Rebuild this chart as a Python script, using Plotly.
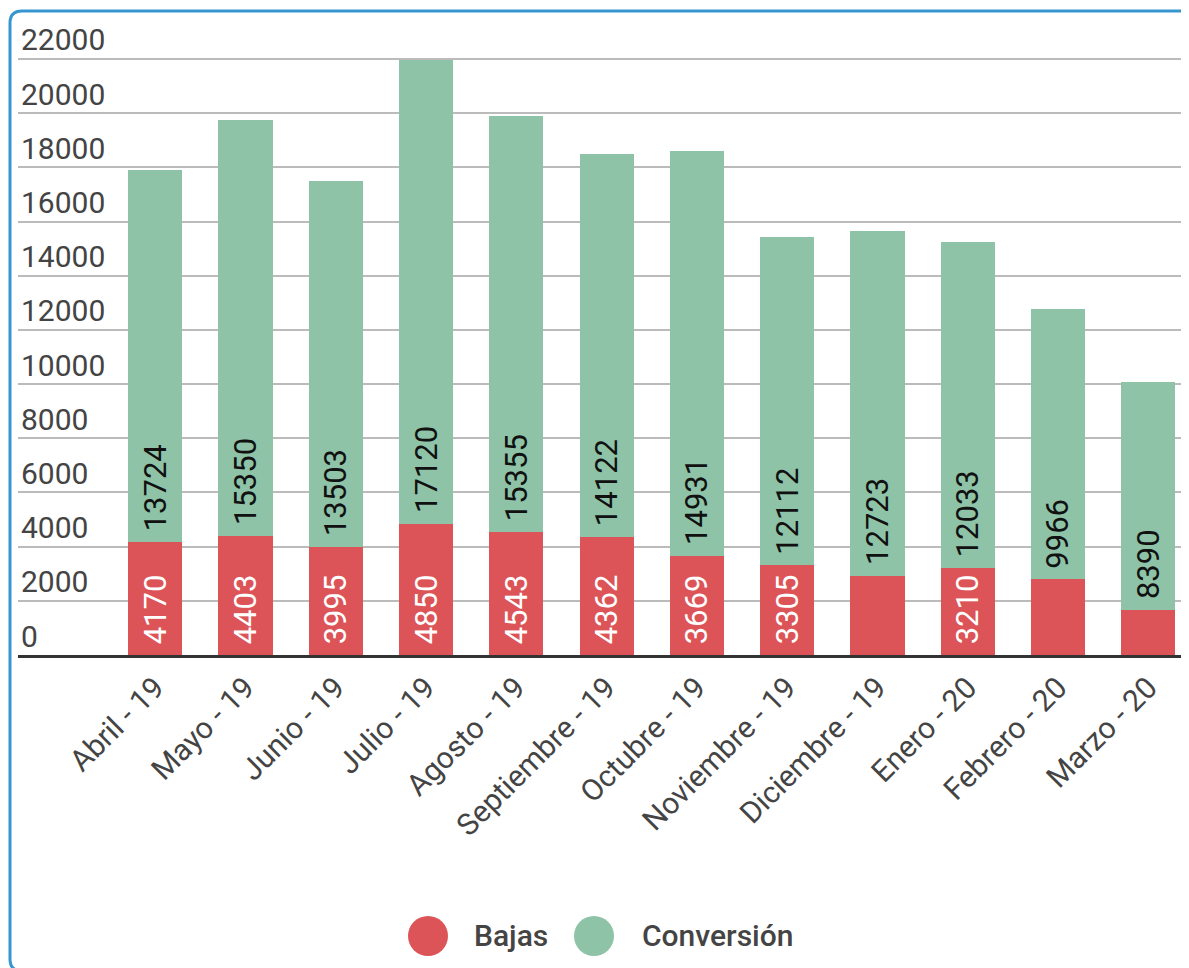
import plotly.graph_objects as go

months = ["Abril - 19", "Mayo - 19", "Junio - 19", "Julio - 19", "Agosto - 19",
          "Septiembre - 19", "Octubre - 19", "Noviembre - 19", "Diciembre - 19",
          "Enero - 20", "Febrero - 20", "Marzo - 20"]
bajas = [4170, 4403, 3995, 4850, 4543, 4362, 3669, 3305, 2930, 3210, 2790, 1670]
conversion = [13724, 15350, 13503, 17120, 15355, 14122, 14931, 12112, 12723, 12033, 9966, 8390]
series_names = ["Bajas", "Conversión"]
y_ticks = [0, 2000, 4000, 6000, 8000, 10000, 12000, 14000, 16000, 18000, 20000, 22000]

RED = "#dc5457"
GREEN = "#8ec3a7"

OFF = 8  # page offset of the figure in the browser
W, H = 1189, 968
L, R, T, B = 10, 0, 13, 321
PW = W - L - R
PH = H - T - B


def px2x(px):
    return (px - OFF - L) / PW


def py2y(py):
    return (H - B - (py - OFF)) / PH


bajas_text = [" " + str(v) if v >= 3000 else "" for v in bajas]
conv_text = [" " + str(v) for v in conversion]

fig = go.Figure()
fig.add_trace(go.Bar(
    x=months, y=bajas, name=series_names[0], marker=dict(color=RED, line=dict(width=0)),
    text=bajas_text, textposition="inside", insidetextanchor="start", textangle=-90,
    textfont=dict(family="Roboto", size=31, color="white"), showlegend=False,
))
fig.add_trace(go.Bar(
    x=months, y=conversion, name=series_names[1], marker=dict(color=GREEN, line=dict(width=0)),
    text=conv_text, textposition="inside", insidetextanchor="start", textangle=-90,
    textfont=dict(family="Roboto", size=31, color="#111111"), showlegend=False,
))

fig.update_layout(
    width=W, height=H, autosize=False,
    margin=dict(l=L, r=R, t=T, b=B, pad=0),
    barmode="stack", bargap=0.4,
    plot_bgcolor="white", paper_bgcolor="white",
    font=dict(family="Roboto", color="#333333"),
)
fig.update_xaxes(
    range=[-1.52, 11.54], showgrid=False, showline=True, linecolor="#333333", linewidth=3,
    tickangle=-45, ticks="", tickfont=dict(family="Roboto", size=30, color="#444444"),
    zeroline=False,
)
fig.update_yaxes(
    range=[0, 23400], tickmode="array", tickvals=y_ticks, ticktext=[str(v) for v in y_ticks],
    showgrid=True, gridcolor="#bbbbbb", gridwidth=2,
    ticklabelposition="inside", ticklabelshift=-19, ticks="", showline=False, zeroline=False,
    tickfont=dict(family="Roboto", size=30, color="#444444"),
)

# legend drawn as circles + text
leg = [(428, RED, 472, series_names[0]), (594, GREEN, 640, series_names[1])]
shapes = []
annotations = []
ly = py2y(936)
for cx, col, tx, name in leg:
    shapes.append(dict(type="circle", xref="paper", yref="paper", xsizemode="pixel",
                       ysizemode="pixel", xanchor=px2x(cx), yanchor=ly,
                       x0=-20, x1=20, y0=-20, y1=20, fillcolor=col, line=dict(width=0)))
    annotations.append(dict(xref="paper", yref="paper", x=px2x(tx), y=ly, xanchor="left",
                            yanchor="middle", text=name, showarrow=False,
                            font=dict(family="Roboto", size=30, color="#444444", weight=500)))

# rounded blue frame
path = (f"M {px2x(1200)} {py2y(11)} L {px2x(22)} {py2y(11)} "
        f"Q {px2x(10)} {py2y(11)} {px2x(10)} {py2y(23)} "
        f"L {px2x(10)} {py2y(959)} Q {px2x(10)} {py2y(971)} {px2x(22)} {py2y(971)} "
        f"L {px2x(1200)} {py2y(971)}")
shapes.append(dict(type="path", xref="paper", yref="paper", path=path,
                   line=dict(color="#3796cf", width=3)))

fig.update_layout(shapes=shapes, annotations=annotations)
fig.write_html("out.html")
